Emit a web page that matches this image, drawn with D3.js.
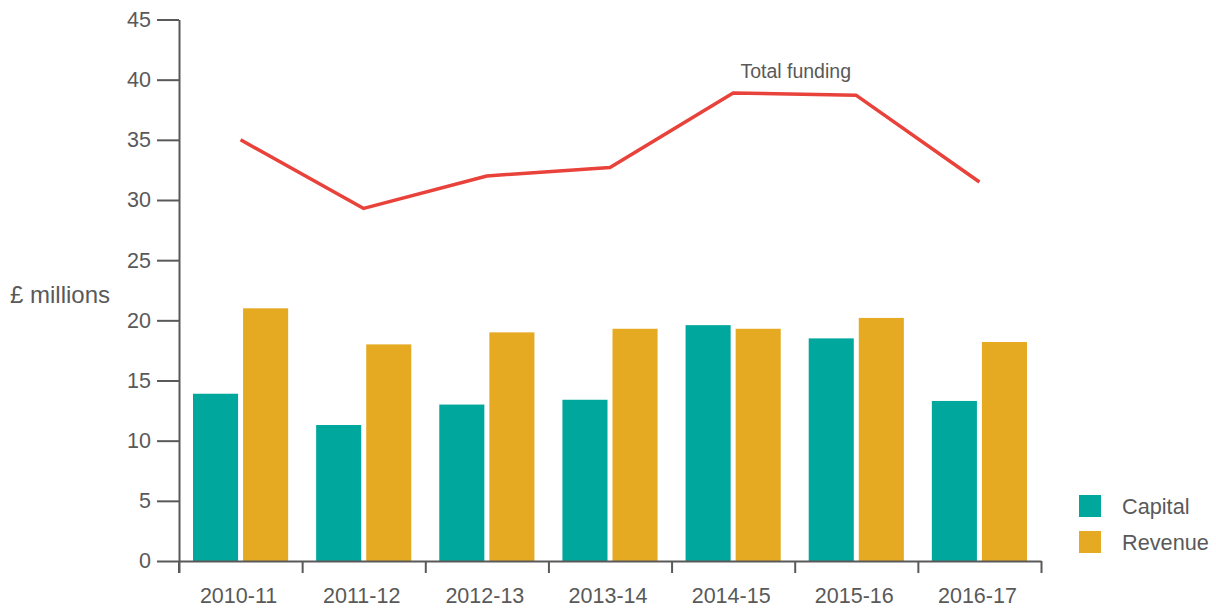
<!DOCTYPE html>
<html>
<head>
<meta charset="utf-8">
<script src="https://cdn.jsdelivr.net/npm/d3@7"></script>
<style>
  body { margin: 0; background: #fff; }
  svg { display: block; font-family: "Liberation Sans", Arial, sans-serif; }
  .axis text { fill: #595959; font-size: 21.5px; }
  .axis path, .axis line { stroke: #595959; stroke-width: 2; }
</style>
</head>
<body>
<svg id="chart" width="1216" height="609"></svg>
<script>
// chart data
const years = ["2010-11", "2011-12", "2012-13", "2013-14", "2014-15", "2015-16", "2016-17"];
const capital = [13.9, 11.3, 13.0, 13.4, 19.6, 18.5, 13.3];
const revenue = [21.0, 18.0, 19.0, 19.3, 19.3, 20.2, 18.2];
const totalFunding = [35.0, 29.3, 32.0, 32.7, 38.9, 38.7, 31.5];
const seriesNames = ["Capital", "Revenue"];
const yTicks = [0, 5, 10, 15, 20, 25, 30, 35, 40, 45];

const colors = { Capital: "#00a79d", Revenue: "#e5aa22" };

const svg = d3.select("#chart");
const margin = { top: 19.5, left: 179, right: 175, bottom: 48 };
const width = 1216 - margin.left - margin.right;
const height = 609 - margin.top - margin.bottom;

const g = svg.append("g").attr("transform", `translate(${margin.left},${margin.top})`);

const x0 = d3.scaleBand().domain(years).range([0, width]).padding(0);
const x1 = d3.scaleBand().domain(seriesNames)
    .range([14, x0.bandwidth() - 14]).paddingInner(0.1);
const y = d3.scaleLinear().domain([0, 45]).range([height, 0]);

// bars
const rows = years.map((yr, i) => ({ year: yr, Capital: capital[i], Revenue: revenue[i] }));
g.selectAll(".grp")
    .data(rows)
    .enter().append("g")
    .attr("transform", d => `translate(${x0(d.year)},0)`)
    .selectAll("rect")
    .data(d => seriesNames.map(k => ({ key: k, value: d[k] })))
    .enter().append("rect")
    .attr("x", d => x1(d.key))
    .attr("width", x1.bandwidth())
    .attr("y", d => y(d.value))
    .attr("height", d => height - y(d.value))
    .attr("fill", d => colors[d.key]);

// y axis
const yAxis = g.append("g").attr("class", "axis")
    .call(d3.axisLeft(y).tickValues(yTicks).tickSize(22).tickSizeOuter(0).tickPadding(6));
yAxis.append("line")
    .attr("x1", 0).attr("x2", 0)
    .attr("y1", height).attr("y2", height + 12);

// x axis (ticks on band edges)
const xEdges = d3.scaleLinear().domain([0, years.length]).range([0, width]);
const xAxis = g.append("g").attr("class", "axis")
    .attr("transform", `translate(0,${height})`)
    .call(d3.axisBottom(xEdges).tickValues(d3.range(years.length + 1))
        .tickFormat("").tickSize(12).tickSizeOuter(0));

xAxis.selectAll(".year-label")
    .data(years)
    .enter().append("text")
    .attr("class", "year-label")
    .attr("x", d => x0(d) + x0.bandwidth() / 2 - 2)
    .attr("y", 42)
    .attr("text-anchor", "middle")
    .text(d => d);

// y axis title
svg.append("text")
    .attr("x", 10)
    .attr("y", 303)
    .attr("fill", "#595959")
    .style("font-size", "24px")
    .text("£ millions");

// total funding line
const line = d3.line()
    .x((d, i) => x0(years[i]) + x0.bandwidth() / 2)
    .y(d => y(d));

g.append("path")
    .datum(totalFunding)
    .attr("fill", "none")
    .attr("stroke", "#e8423a")
    .attr("stroke-width", 3.5)
    .attr("stroke-linejoin", "round")
    .attr("d", line);

g.append("text")
    .attr("x", (x0(years[4]) + x0(years[5])) / 2 + x0.bandwidth() / 2 + 1)
    .attr("y", y(totalFunding[4]) - 15)
    .attr("text-anchor", "middle")
    .attr("fill", "#595959")
    .style("font-size", "19.5px")
    .text("Total funding");

// legend
const legend = svg.append("g").attr("transform", "translate(1079,495)");
seriesNames.forEach((name, i) => {
    const item = legend.append("g").attr("transform", `translate(0,${i * 36})`);
    item.append("rect").attr("width", 22).attr("height", 22).attr("fill", colors[name]);
    item.append("text")
        .attr("x", 43).attr("y", 11).attr("dy", "0.35em")
        .attr("fill", "#595959")
        .style("font-size", "21.7px")
        .text(name);
});
</script>
</body>
</html>
